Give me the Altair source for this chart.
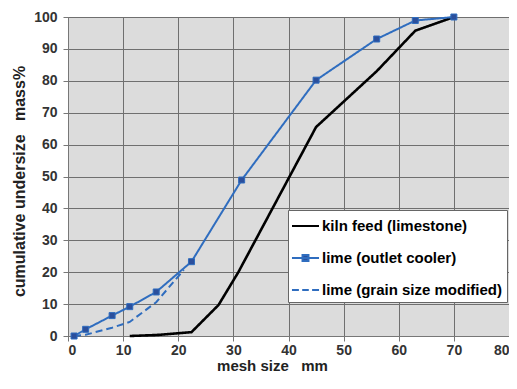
import altair as alt
import pandas as pd

series_names = ["kiln feed (limestone)", "lime (outlet cooler)", "lime (grain size modified)"]

kiln_x = [11.2, 16.0, 22.4, 27.3, 30.9, 45.0, 56.0, 63.0, 70.0]
kiln_y = [0.0, 0.3, 1.2, 9.7, 20.0, 65.5, 83.0, 95.7, 100.0]

outlet_x = [1.1, 3.2, 8.0, 11.2, 16.0, 22.4, 31.5, 45.0, 56.0, 63.0, 70.0]
outlet_y = [0.0, 2.1, 6.4, 9.2, 13.8, 23.3, 48.9, 80.2, 93.1, 98.9, 100.0]

mod_x = [1.1, 3.2, 8.0, 11.2, 16.0, 21.0]
mod_y = [0.0, 0.4, 2.6, 4.4, 10.6, 20.7]

x_ticks = list(range(0, 81, 10))
y_ticks = list(range(0, 101, 10))

rows = []
for name, xs, ys in zip(series_names, [kiln_x, outlet_x, mod_x], [kiln_y, outlet_y, mod_y]):
    for i, (xv, yv) in enumerate(zip(xs, ys)):
        rows.append({"series": name, "x": xv, "y": yv, "order": i})
df = pd.DataFrame(rows)

FONT = "Liberation Sans"
BLUE = "#2f6dbf"
MARK = "#2b4f9c"
GRID = "#6f6f6f"

x_enc = alt.X(
    "x:Q",
    scale=alt.Scale(domain=[0, 80], nice=False, zero=False),
    axis=alt.Axis(
        values=x_ticks, title="mesh size\u00a0\u00a0\u00a0mm", grid=True, gridColor=GRID,
        domainColor="#777", tickColor="#777", tickSize=5, labelPadding=2,
        labelFont=FONT, labelFontSize=14, labelFontWeight="bold", labelColor="#333",
        titleFont=FONT, titleFontSize=15, titleFontWeight="bold", titleColor="#222",
        titleX=204, titleY=34, titleAlign="center", titleBaseline="alphabetic",
    ),
)
y_enc = alt.Y(
    "y:Q",
    scale=alt.Scale(domain=[0, 100], nice=False),
    axis=alt.Axis(
        values=y_ticks, title="cumulative undersize\u00a0\u00a0\u00a0mass%", grid=True, gridColor=GRID,
        domainColor="#777", tickColor="#777", tickSize=5, labelPadding=6,
        labelFont=FONT, labelFontSize=14, labelFontWeight="bold", labelColor="#333",
        titleFont=FONT, titleFontSize=16, titleFontWeight="bold", titleColor="#222",
        titleX=-49, titleY=164, titleAngle=270, titleAlign="center", titleBaseline="middle",
    ),
)

# legend symbol paths (unit coords, scaled by sqrt(size)/2)
LINE = "M-1.23,0H1.23"
LINE_SQ = "M-1.23,0H1.23M-0.27,-0.27H0.27V0.27H-0.27Z"
DASH = "M-1.23,0H-0.6M-0.3,0H0.3M0.6,0H1.23"

legend = alt.Legend(
    title=None, orient="none", legendX=220, legendY=193,
    fillColor="white", strokeColor="#666", padding=4,
    symbolSize=484, symbolStrokeWidth=2, symbolOffset=1.5, labelOffset=4.5,
    symbolOpacity=1,
    labelFont=FONT, labelFontSize=15, labelFontWeight="bold", labelColor="black",
    rowPadding=12, labelLimit=400,
)


def series_line(name, color, width, dash):
    return alt.Chart(df).transform_filter(alt.datum.series == name).mark_line(
        color=color, strokeWidth=width, strokeDash=dash
    ).encode(x=x_enc, y=y_enc, order="order:Q")


kiln_line = series_line(series_names[0], "black", 2.6, [1, 0])
outlet_line = series_line(series_names[1], BLUE, 2.0, [1, 0])
mod_line = series_line(series_names[2], BLUE, 2.0, [7, 4])

points = alt.Chart(df).transform_filter(
    alt.datum.series == series_names[1]
).mark_square(size=36, filled=True, color=MARK, stroke=BLUE, strokeWidth=1, opacity=1).encode(
    x=x_enc, y=y_enc
)

# layer that only feeds the legend (its marks are shifted out of the clipped view)
legend_layer = alt.Chart(df).transform_filter(alt.datum.order == 0).mark_point(
    filled=True, strokeWidth=2, size=484, clip=True, xOffset=-3000
).encode(
    x=x_enc,
    y=y_enc,
    color=alt.Color("series:N", scale=alt.Scale(domain=series_names, range=["black", MARK, BLUE]), legend=legend),
    stroke=alt.Stroke("series:N", scale=alt.Scale(domain=series_names, range=["black", BLUE, BLUE]), legend=legend),
    shape=alt.Shape("series:N", scale=alt.Scale(domain=series_names, range=[LINE, LINE_SQ, DASH]), legend=legend),
)

chart = alt.layer(kiln_line, mod_line, outlet_line, points, legend_layer).properties(
    width=441, height=319,
    autosize=alt.AutoSizeParams(type="none"),
    padding={"left": 60, "top": 9, "right": 0, "bottom": 37},
).configure_view(fill="#dcdcdc", stroke="#808080")

chart.save("out.html", embed_options={"renderer": "svg", "actions": False})
